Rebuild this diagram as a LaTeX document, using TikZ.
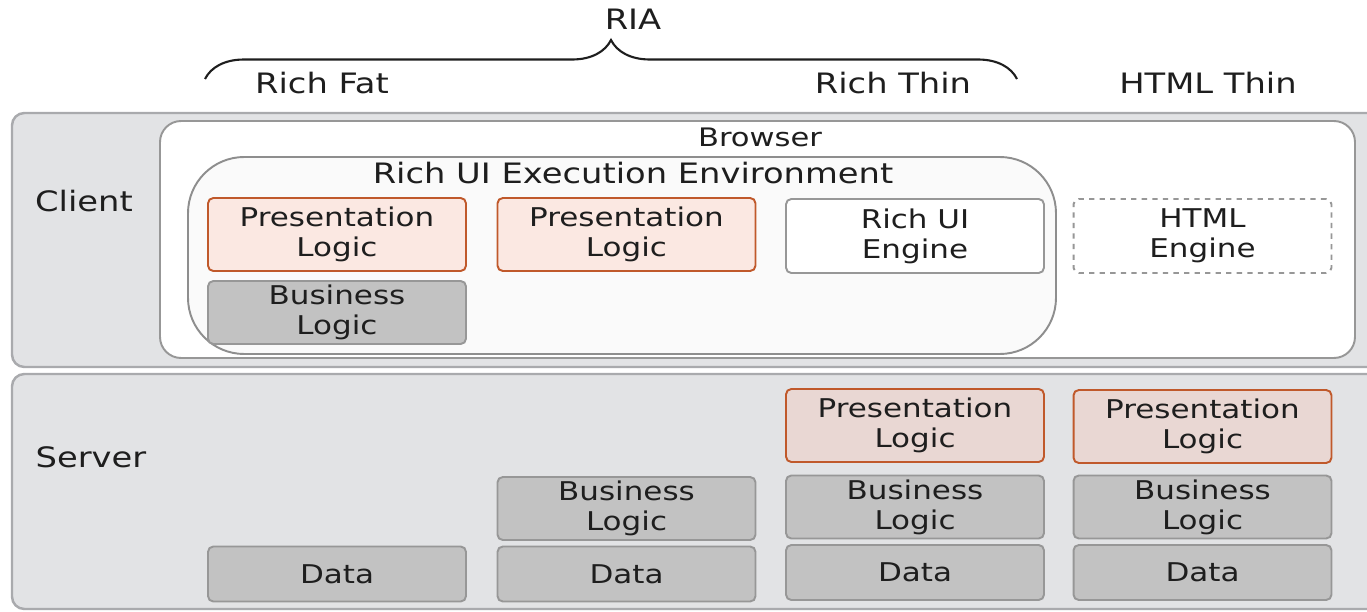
\documentclass[tikz,border=0pt]{standalone}
\usepackage{fontspec}
\setmainfont[FakeStretch=1.2]{DejaVu Sans}
\usepackage{xcolor}
\usetikzlibrary{decorations.pathreplacing}
\definecolor{panelfill}{HTML}{E2E3E5}
\definecolor{paneledge}{HTML}{A9AAAD}
\definecolor{envfill}{HTML}{FAFAFA}
\definecolor{envedge}{HTML}{8E8E8E}
\definecolor{presedge}{HTML}{C0592B}
\definecolor{presfill}{HTML}{FBE8E2}
\definecolor{presfillsrv}{HTML}{E9D7D3}
\definecolor{logicfill}{HTML}{C2C2C2}
\definecolor{logicedge}{HTML}{979797}
\definecolor{ink}{HTML}{1E1E1E}

\tikzset{
  panel/.style={draw=paneledge, fill=panelfill, line width=1.4pt, rounded corners=7pt},
  tier/.style={rounded corners=3pt, line width=1.1pt, minimum width=5.16cm,
    align=center, inner sep=0pt, text=ink, font=\fontsize{14.7}{17}\selectfont},
  presbox/.style={tier, draw=presedge, fill=presfill, minimum height=1.46cm},
  logicbox/.style={tier, draw=logicedge, fill=logicfill, minimum height=1.26cm},
  databox/.style={tier, draw=logicedge, fill=logicfill, minimum height=1.1cm},
  enginebox/.style={tier, draw=logicedge, fill=white, minimum height=1.48cm},
  label/.style={text=ink, font=\fontsize{16}{19}\selectfont}
}

\begin{document}
\begin{tikzpicture}[x=0.02cm, y=-0.02cm]
\useasboundingbox (0,0) rectangle (1367,612);

% tiers
\draw[panel] (12,113) rectangle (1390,367);
\draw[panel] (12,374) rectangle (1390,609);
\node[label] (client) at (84,201) {Client};
\node[label] (server) at (91,457) {Server};

% browser and rich UI environment
\draw[draw=logicedge, fill=white, line width=1.1pt, rounded corners=12pt] (160,121) rectangle (1355,358);
\node[text=ink, font=\fontsize{14.5}{17}\selectfont] (browser) at (760,137) {Browser};
\draw[draw=envedge, fill=envfill, line width=1.1pt, rounded corners=32pt] (188,157) rectangle (1056,354);
\node[label] (env) at (633,173) {Rich UI Execution Environment};

% client side
\node[presbox] (plfat) at (337,234.5) {Presentation\\Logic};
\node[presbox] (plthin) at (626.5,234.5) {Presentation\\Logic};
\node[enginebox] (richui) at (915,236) {Rich UI\\Engine};
\node[enginebox, dashed, fill=none] (htmleng) at (1202.5,236) {HTML\\Engine};
\node[logicbox] (blfat) at (337,312.5) {Business\\Logic};

% server side
\node[presbox, fill=presfillsrv] (plrich) at (915,425.5) {Presentation\\Logic};
\node[presbox, fill=presfillsrv] (plhtml) at (1202.5,426.5) {Presentation\\Logic};
\node[logicbox] (blthin) at (626.5,508.5) {Business\\Logic};
\node[logicbox] (blrich) at (915,507) {Business\\Logic};
\node[logicbox] (blhtml) at (1202.5,507) {Business\\Logic};
\node[databox] (datafat) at (337,574) {Data};
\node[databox] (datathin) at (626.5,574) {Data};
\node[databox] (datarich) at (915,572.5) {Data};
\node[databox] (datahtml) at (1202.5,572.5) {Data};

% architecture labels
\coordinate (riaL) at (205,79);
\coordinate (riaR) at (1017,79);
\draw[ink, line width=1.2pt, decorate, decoration={brace, amplitude=0.78cm}] (riaL) -- (riaR);
\node[label] (ria) at (633,19) {RIA};
\node[label] (richfat) at (322,83) {Rich Fat};
\node[label] (richthin) at (893,83) {Rich Thin};
\node[label] (htmlthin) at (1208,83) {HTML Thin};
\end{tikzpicture}
\end{document}
